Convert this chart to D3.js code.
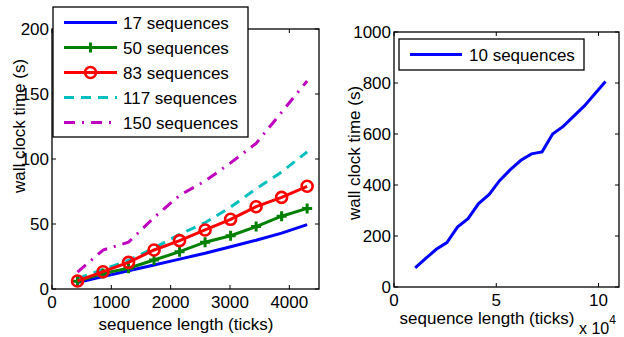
<!DOCTYPE html>
<html><head><meta charset="utf-8">
<script src="https://cdn.jsdelivr.net/npm/d3@7"></script>
<style>
html,body{margin:0;padding:0;background:#fff;}
text{font-family:"Liberation Sans",Arial,Helvetica,sans-serif;fill:#000;}
</style></head>
<body>
<svg id="c" width="624" height="337"></svg>
<script>
// ---- data ----
const lengthsLeft = [430, 860, 1290, 1720, 2150, 2580, 3010, 3440, 3870, 4300];
const seriesNames = ["17 sequences", "50 sequences", "83 sequences", "117 sequences", "150 sequences"];
const seq17  = [5, 9.5, 14, 18.5, 23, 27.5, 32.5, 37.5, 43, 49.5];
const seq50  = [6, 12, 16, 22.3, 28.7, 36, 41, 48, 56, 62];
const seq83  = [6.2, 13.3, 20.5, 30, 37.2, 45.4, 53.6, 63.3, 70.5, 79];
const seq117 = [8, 15, 22, 31.5, 42, 51, 63, 77, 90, 105.5];
const seq150 = [13, 30, 36, 55, 72, 83, 97, 112, 136, 160];
const leftXTicks = [0, 1000, 2000, 3000, 4000];
const leftYTicks = [0, 50, 100, 150, 200];

const lengthsRight = [10340, 15510, 20680, 25850, 31020, 36190, 41360, 46530, 51700, 56870, 62040, 67210, 72380, 77550, 82720, 87890, 93060, 98230, 103400];
const seq10 = [75, 112, 148, 174, 235, 268, 327, 363, 418, 460, 497, 522, 530, 600, 630, 670, 710, 758, 806];
const rightSeriesName = "10 sequences";
const rightXTicks = [0, 50000, 100000];
const rightYTicks = [0, 200, 400, 600, 800, 1000];

const svg = d3.select("#c");
const FS = 17;

function axesBox(g, x, y, xt, yt, xfmt) {
  const [x0, x1] = x.range(), [y0, y1] = y.range();
  const tl = 4;
  g.append("rect").attr("x", x0).attr("y", y1).attr("width", x1 - x0).attr("height", y0 - y1)
    .attr("fill", "none").attr("stroke", "#000").attr("stroke-width", 1.3);
  xt.forEach(t => {
    const px = x(t);
    g.append("line").attr("x1", px).attr("x2", px).attr("y1", y0).attr("y2", y0 - tl).attr("stroke", "#000");
    g.append("line").attr("x1", px).attr("x2", px).attr("y1", y1).attr("y2", y1 + tl).attr("stroke", "#000");
    g.append("text").attr("x", px).attr("y", y0 + 19).attr("text-anchor", "middle")
      .attr("font-size", FS).text(xfmt(t));
  });
  yt.forEach(t => {
    const py = y(t);
    g.append("line").attr("x1", x0).attr("x2", x0 + tl).attr("y1", py).attr("y2", py).attr("stroke", "#000");
    g.append("line").attr("x1", x1).attr("x2", x1 - tl).attr("y1", py).attr("y2", py).attr("stroke", "#000");
    g.append("text").attr("x", x0 - 3).attr("y", py).attr("dy", "0.36em").attr("text-anchor", "end")
      .attr("font-size", FS).text(t);
  });
}

// ---- left chart ----
const xL = d3.scaleLinear().domain([0, 4500]).range([52, 319]);
const yL = d3.scaleLinear().domain([0, 200]).range([289, 29]);
const gL = svg.append("g");
axesBox(gL, xL, yL, leftXTicks, leftYTicks, d => d);

const styles = [
  {color: "#0000ff", dash: null, marker: null},
  {color: "#008000", dash: null, marker: "plus"},
  {color: "#ff0000", dash: null, marker: "circle"},
  {color: "#00bfbf", dash: "10,7", marker: null},
  {color: "#bf00bf", dash: "11,7,2,7", marker: null}
];
const leftSeries = [seq17, seq50, seq83, seq117, seq150];
const lineL = d3.line().x(d => xL(d[0])).y(d => yL(d[1]));

function drawMarker(g, type, cx, cy, color) {
  if (type === "plus") {
    g.append("path").attr("d", `M${cx-5},${cy}H${cx+5}M${cx},${cy-5}V${cy+5}`)
      .attr("stroke", color).attr("stroke-width", 3).attr("fill", "none");
  } else if (type === "circle") {
    g.append("circle").attr("cx", cx).attr("cy", cy).attr("r", 5.5)
      .attr("stroke", color).attr("stroke-width", 2.6).attr("fill", "none");
  }
}

const order = [4, 3, 0, 1, 2];
order.forEach(i => {
  const pts = lengthsLeft.map((x, j) => [x, leftSeries[i][j]]);
  gL.append("path").attr("d", lineL(pts)).attr("fill", "none")
    .attr("stroke", styles[i].color).attr("stroke-width", 3)
    .attr("stroke-dasharray", styles[i].dash);
  if (styles[i].marker) pts.forEach(p => drawMarker(gL, styles[i].marker, xL(p[0]), yL(p[1]), styles[i].color));
});

// left legend
const lg = svg.append("g");
lg.append("rect").attr("x", 53).attr("y", 7).attr("width", 195).attr("height", 130)
  .attr("fill", "#fff").attr("stroke", "#000").attr("stroke-width", 1.3);
seriesNames.forEach((n, i) => {
  const yy = 22.5 + i * 25;
  lg.append("line").attr("x1", 64).attr("x2", 117).attr("y1", yy).attr("y2", yy)
    .attr("stroke", styles[i].color).attr("stroke-width", 3).attr("stroke-dasharray", styles[i].dash);
  if (styles[i].marker) drawMarker(lg, styles[i].marker, 90.5, yy, styles[i].color);
  lg.append("text").attr("x", 123).attr("y", yy).attr("dy", "0.36em").attr("font-size", FS).text(n);
});

svg.append("text").attr("transform", "translate(25,126) rotate(-90)").attr("text-anchor", "middle")
  .attr("font-size", FS).text("wall clock time (s)");
svg.append("text").attr("x", 186).attr("y", 330).attr("text-anchor", "middle")
  .attr("font-size", FS).text("sequence length (ticks)");

// ---- right chart ----
const xR = d3.scaleLinear().domain([0, 110000]).range([394, 619]);
const yR = d3.scaleLinear().domain([0, 1000]).range([287, 32]);
const gR = svg.append("g");
axesBox(gR, xR, yR, rightXTicks, rightYTicks, d => d / 10000);
const lineR = d3.line().x(d => xR(d[0])).y(d => yR(d[1]));
gR.append("path").attr("d", lineR(lengthsRight.map((x, j) => [x, seq10[j]])))
  .attr("fill", "none").attr("stroke", "#0000ff").attr("stroke-width", 3);

const rg = svg.append("g");
rg.append("rect").attr("x", 399).attr("y", 39).attr("width", 185).attr("height", 31)
  .attr("fill", "#fff").attr("stroke", "#000").attr("stroke-width", 1.3);
rg.append("line").attr("x1", 410).attr("x2", 462).attr("y1", 54.5).attr("y2", 54.5)
  .attr("stroke", "#0000ff").attr("stroke-width", 3);
rg.append("text").attr("x", 469).attr("y", 54.5).attr("dy", "0.36em").attr("font-size", FS).text(rightSeriesName);

svg.append("text").attr("transform", "translate(360,153) rotate(-90)").attr("text-anchor", "middle")
  .attr("font-size", FS).text("wall clock time (s)");
svg.append("text").attr("x", 487).attr("y", 324).attr("text-anchor", "middle")
  .attr("font-size", FS).text("sequence length (ticks)");
const sx = svg.append("text").attr("x", 579).attr("y", 334).attr("font-size", 16);
sx.append("tspan").text("x 10");
sx.append("tspan").attr("dy", -10).attr("font-size", 12).text("4");
</script>
</body></html>
